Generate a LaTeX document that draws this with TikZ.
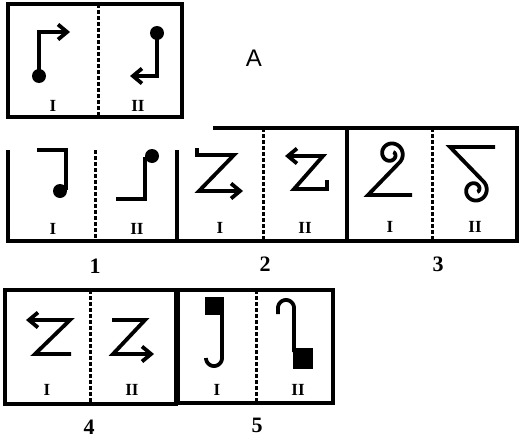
\documentclass[tikz,border=0pt]{standalone}
\usepackage{fontspec}
\setmainfont{Liberation Serif}
\newfontfamily\sansfont{Liberation Sans}
\usetikzlibrary{arrows.meta}
\tikzset{
    frame/.style = {line width=3.2pt, draw=black},
    divider/.style = {line width=3pt, draw=black, dash pattern=on 4pt off 2pt},
    glyph/.style = {line width=3.8pt, draw=black, line join=miter},
    glypharrow/.style = {glyph, -{Straight Barb[length=9pt,width=15pt]}},
    blob/.style = {fill=black},
    numeral/.style = {font=\bfseries\fontsize{17}{17}\selectfont, inner sep=0pt},
    tasknum/.style = {font=\bfseries\fontsize{22}{22}\selectfont, inner sep=0pt},
    tasklabel/.style = {font=\sansfont\fontsize{24}{24}\selectfont, inner sep=0pt}
}

\begin{document}
\begin{tikzpicture}[x=1pt, y=-1pt]
  \useasboundingbox (0,0) rectangle (519,439);

  % sample A
  \draw[frame] (8,4) rectangle (182,117);
  \draw[divider] (98,4) -- (98,117);
  \fill[blob] (39,76) circle[radius=7];
  \draw[glypharrow] (39,76) -- (39,32) -- (70,32);
  \fill[blob] (157,33) circle[radius=7];
  \draw[glypharrow] (157,33) -- (157,76) -- (130,76);
  \node[numeral] (a-i) at (53,106) {I};
  \node[numeral] (a-ii) at (138,106) {II};
  \node[tasklabel] (a-name) at (254,58) {A};

  % row of options 1-3
  \draw[frame] (8,150) -- (8,241) -- (517,241) -- (517,128) -- (213,128);
  \draw[frame] (177,150) -- (177,241);
  \draw[frame] (347,128) -- (347,241);
  \draw[divider] (95,150) -- (95,241);
  \draw[divider] (263,128) -- (263,241);
  \draw[divider] (432,128) -- (432,241);

  \draw[glyph] (37,150) -- (66,150) -- (66,190);
  \fill[blob] (60,191) circle[radius=7];
  \draw[glyph] (116,199) -- (145,199) -- (145,157);
  \fill[blob] (152,156) circle[radius=7];
  \node[numeral] (o1-i) at (53,229) {I};
  \node[numeral] (o1-ii) at (137,229) {II};

  \draw[glypharrow] (197,148) -- (197,155) -- (234,155) -- (199,191) -- (243,191);
  \draw[glypharrow] (327,180) -- (327,189) -- (294,189) -- (323,156) -- (285,156);
  \node[numeral] (o2-i) at (220,228) {I};
  \node[numeral] (o2-ii) at (305,228) {II};

  \draw[glyph] (412,195) -- (368,195) -- plot[domain=-45:400, samples=100, variable=\t]
      ({391+(12-9*((\t+45)/445)^1.5)*cos(\t)}, {154-(12-9*((\t+45)/445)^1.5)*sin(\t)});
  \draw[glyph] (495,147) -- (450,147) -- plot[domain=45:-400, samples=100, variable=\t]
      ({475+(12-9*((45-\t)/445)^1.5)*cos(\t)}, {190-(12-9*((45-\t)/445)^1.5)*sin(\t)});
  \node[numeral] (o3-i) at (390,227) {I};
  \node[numeral] (o3-ii) at (475,227) {II};

  \node[tasknum] (n1) at (95,266) {1};
  \node[tasknum] (n2) at (265,264) {2};
  \node[tasknum] (n3) at (438,264) {3};

  % row of options 4-5
  \draw[frame] (5,290) rectangle (176,404);
  \draw[frame] (178,290) rectangle (333,403);
  \draw[divider] (90,290) -- (90,404);
  \draw[divider] (256,290) -- (256,403);

  \draw[glypharrow] (71,354) -- (35,354) -- (70,320) -- (26,320);
  \draw[glypharrow] (112,320) -- (145,320) -- (113,354) -- (154,354);
  \node[numeral] (o4-i) at (47,390) {I};
  \node[numeral] (o4-ii) at (132,390) {II};

  \fill[blob] (205,297) rectangle (224,315);
  \draw[glyph] (222,312) -- (222,358) -- plot[domain=0:-180, samples=30, variable=\t]
      ({214+8*cos(\t)}, {358-8*sin(\t)});
  \draw[glyph] (278,314) -- plot[domain=180:0, samples=30, variable=\t]
      ({286+8*cos(\t)}, {308-8*sin(\t)}) -- (294,352);
  \fill[blob] (293,348) rectangle (313,369);
  \node[numeral] (o5-i) at (217,390) {I};
  \node[numeral] (o5-ii) at (298,390) {II};

  \node[tasknum] (n4) at (89,427) {4};
  \node[tasknum] (n5) at (257,425) {5};
\end{tikzpicture}
\end{document}
